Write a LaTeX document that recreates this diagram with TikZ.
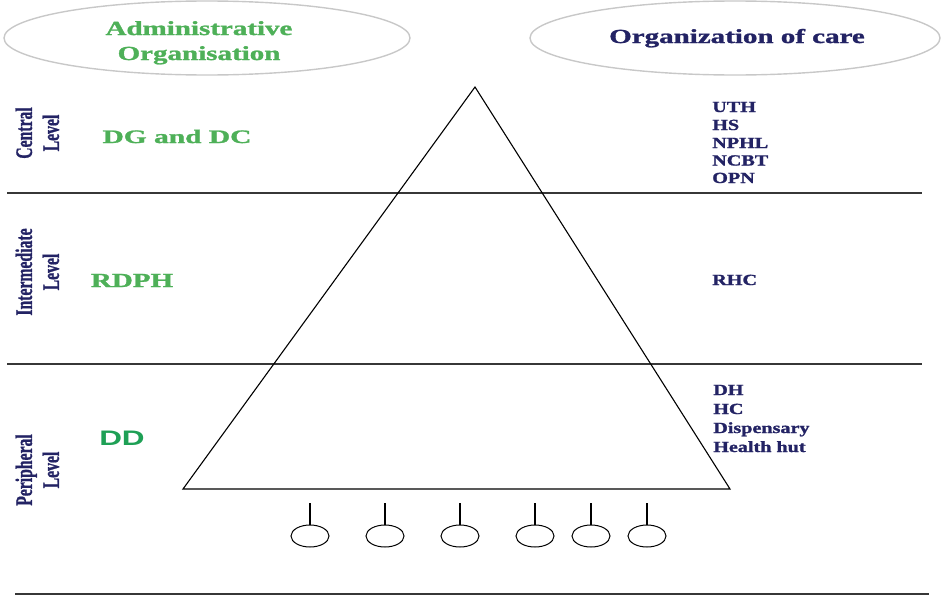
\documentclass[tikz,border=0pt]{standalone}
\usepackage{fontspec}
\usepackage{graphicx}
\setmainfont{Liberation Serif}[BoldFeatures={FakeBold=1.2}]
\newfontfamily\arialfont{Liberation Sans}
\usetikzlibrary{shapes.geometric}
\definecolor{adgreen}{RGB}{78,176,88}
\definecolor{ddgreen}{RGB}{30,160,85}
\definecolor{navy}{RGB}{35,35,100}
\definecolor{ellgray}{RGB}{200,200,200}
\definecolor{linegray}{RGB}{55,55,55}
\newcommand{\vlab}[2]{\scalebox{1.5}[1]{\rotatebox{90}{\fontsize{15.7}{18}\selectfont\bfseries\begin{tabular}{@{}c@{}}#1\\#2\end{tabular}}}}
\begin{document}
\begin{tikzpicture}[x=1pt,y=-1pt,
  headell/.style={draw=ellgray, line width=1.4pt, ellipse, minimum width=#1, minimum height=74pt, inner sep=0pt},
  headtxt/.style={anchor=base, inner sep=0pt, font=\fontsize{20}{24}\selectfont\bfseries, xscale=1.45},
  admtxt/.style={anchor=base, inner sep=0pt, text=adgreen, font=\fontsize{19}{22}\selectfont\bfseries},
  caretxt/.style={anchor=base west, inner sep=0pt, text=navy, font=\fontsize{15.5}{18}\selectfont\bfseries, xscale=1.3},
  levelsep/.style={draw=linegray, line width=1.8pt},
  stem/.style={draw=black, line width=1.3pt},
  facility/.style={draw=black, line width=1pt, ellipse, minimum width=38pt, minimum height=22pt, inner sep=0pt},
  pyr/.style={draw=black, line width=1.1pt}]
\useasboundingbox (0,0) rectangle (944,597);

% header ellipses
\node[headell=406pt] (admell) at (207,38) {};
\node[headell=410pt] (careell) at (735,38) {};
\node[headtxt, text=adgreen] (adm1) at (199,35) {Administrative};
\node[headtxt, text=adgreen] (adm2) at (199,60) {Organisation};
\node[headtxt, text=navy] (care) at (737,43) {Organization of care};

% level separators
\coordinate (l1a) at (7,193); \coordinate (l1b) at (922,193);
\coordinate (l2a) at (7,364); \coordinate (l2b) at (922,364);
\coordinate (l3a) at (15,594); \coordinate (l3b) at (929,594);
\draw[levelsep] (l1a) -- (l1b);
\draw[levelsep] (l2a) -- (l2b);
\draw[levelsep] (l3a) -- (l3b);

% pyramid
\coordinate (apex) at (475,87);
\coordinate (bl) at (183,489);
\coordinate (br) at (730,489);
\draw[pyr, line join=miter] (apex) -- (bl) -- (br) -- cycle;

% level labels
\node[text=navy, inner sep=0pt] (cen) at (40,133) {\vlab{Central}{Level}};
\node[text=navy, inner sep=0pt] (int) at (40,272) {\vlab{Intermediate}{Level}};
\node[text=navy, inner sep=0pt] (per) at (40,470) {\vlab{Peripheral}{Level}};

% administrative organisation
\node[admtxt, xscale=1.55] (dg) at (177,143) {DG and DC};
\node[admtxt, font=\fontsize{20}{24}\selectfont\bfseries, xscale=1.45] (rdph) at (132,287) {RDPH};
\node[anchor=base, inner sep=0pt, text=ddgreen, font=\arialfont\fontsize{21}{24}\selectfont\bfseries, xscale=1.5] (dd) at (122,445) {DD};

% organisation of care
\node[caretxt] (uth) at (712,112) {UTH};
\node[caretxt] (hs) at (712,130) {HS};
\node[caretxt] (nphl) at (712,148) {NPHL};
\node[caretxt] (ncbt) at (712,165.5) {NCBT};
\node[caretxt] (opn) at (712,183) {OPN};
\node[caretxt] (rhc) at (712,285) {RHC};
\node[caretxt] (dh) at (713,395) {DH};
\node[caretxt] (hc) at (713,414) {HC};
\node[caretxt] (disp) at (713,433) {Dispensary};
\node[caretxt] (hut) at (713,452) {Health hut};

% facilities below the pyramid
\foreach \i/\xx in {1/310,2/385,3/460,4/535,5/591,6/647}{
  \node[facility] (f\i) at (\xx,536) {};
  \coordinate (s\i) at (\xx,503);
  \draw[stem] (s\i) -- (f\i.north);
}
\end{tikzpicture}
\end{document}
